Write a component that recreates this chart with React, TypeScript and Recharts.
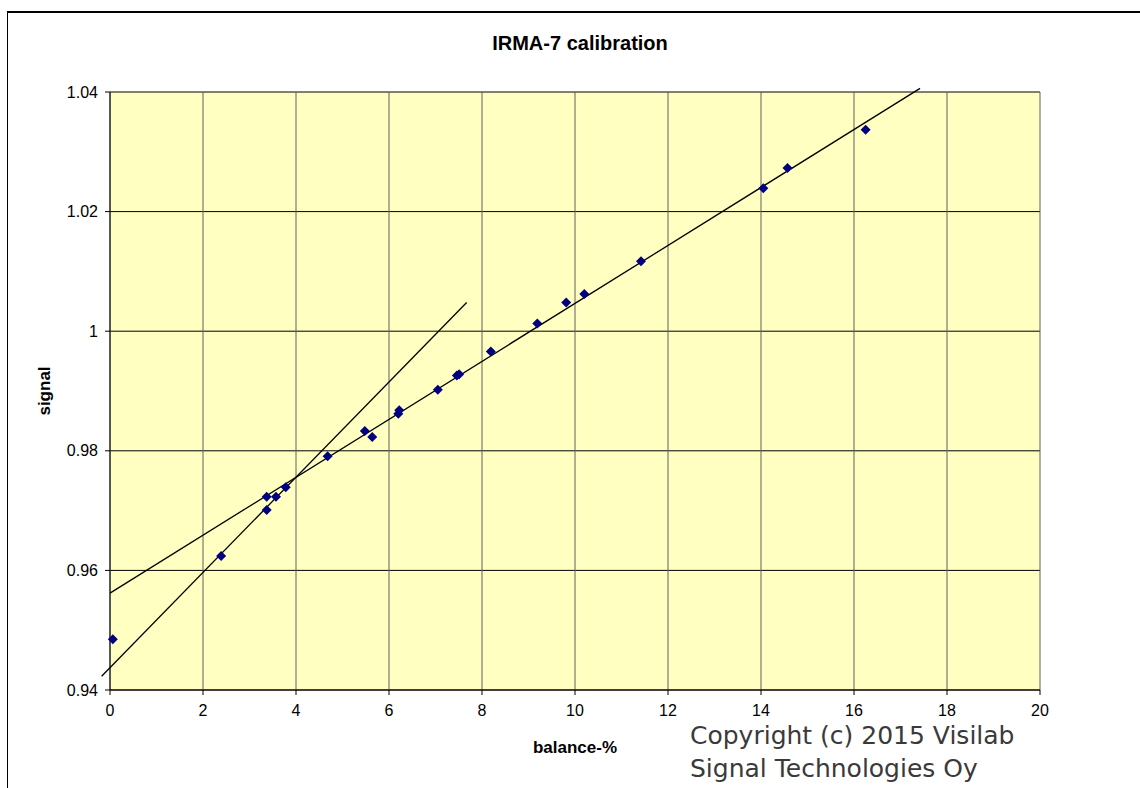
import { ScatterChart, Scatter, XAxis, YAxis, CartesianGrid, ReferenceLine } from 'recharts';

// measured points: balance-% and signal
const balance = [0.06, 2.39, 3.37, 3.37, 3.57, 3.78, 4.68, 5.48, 5.64, 6.2, 6.22, 7.05, 7.46, 7.51, 8.19, 9.19, 9.81, 10.2, 11.42, 14.05, 14.57, 16.25];
const signal = [0.9485, 0.9624, 0.9701, 0.9723, 0.9723, 0.9739, 0.9791, 0.9833, 0.9823, 0.9862, 0.9868, 0.9902, 0.9926, 0.9928, 0.9966, 1.0013, 1.0048, 1.0062, 1.0117, 1.0239, 1.0273, 1.0337];

// fitted lines (end points)
const fitLongX = [0, 17.42];
const fitLongY = [0.9562, 1.0406];
const fitShortX = [-0.18, 7.67];
const fitShortY = [0.9423, 1.0048];

const xTicks = [0, 2, 4, 6, 8, 10, 12, 14, 16, 18, 20];
const yTicks = [0.94, 0.96, 0.98, 1, 1.02, 1.04];

const points = balance.map((b, i) => ({ x: b, y: signal[i] }));

const Diamond = (p: any) => (
  <path
    d={`M${p.cx},${p.cy - 5}L${p.cx + 5},${p.cy}L${p.cx},${p.cy + 5}L${p.cx - 5},${p.cy}Z`}
    fill="#000080"
  />
);

const SignalLabel = ({ viewBox }: any) => {
  const x = viewBox.x;
  const y = viewBox.y + viewBox.height / 2;
  return (
    <text x={x} y={y} transform={`rotate(-90 ${x} ${y})`} textAnchor="middle" fontSize={17} fontWeight="bold" fill="#000">
      signal
    </text>
  );
};

export default function App() {
  return (
    <div style={{ position: 'relative', width: 1140, height: 788, overflow: 'hidden', background: '#fff', fontFamily: '"Liberation Sans", Arial, sans-serif' }}>
      <style>{'body{margin:0}'}</style>
      <div style={{ position: 'absolute', left: 7, top: 11, width: 2000, height: 2000, border: '1px solid #000', borderTopWidth: 2 }} />
      <div style={{ position: 'absolute', left: 10, top: 33, width: 1140, textAlign: 'center', fontSize: 20, lineHeight: '20px', fontWeight: 'bold' }}>
        IRMA-7 calibration
      </div>
      <div style={{ position: 'absolute', left: 0, top: 0 }}>
        <ScatterChart width={1140} height={788} margin={{ top: 92, right: 100, bottom: 68, left: 50 }}>
          <CartesianGrid fill="#FFFFC2" stroke="#000" vertical={false} />
          <CartesianGrid stroke="#606060" horizontal={false} fill="none" />
          <XAxis
            type="number"
            dataKey="x"
            domain={[0, 20]}
            ticks={xTicks}
            height={30}
            tickSize={5}
            tickMargin={10}
            stroke="#000"
            tick={{ fontSize: 16, fill: '#000' }}
            interval={0}
            label={{ value: 'balance-%', position: 'bottom', offset: 21, fontSize: 17, fontWeight: 'bold', fill: '#000' }}
          />
          <YAxis
            type="number"
            dataKey="y"
            domain={[0.94, 1.04]}
            ticks={yTicks}
            width={60}
            tickSize={5}
            tickMargin={7}
            stroke="#000"
            interval={0}
            tick={{ fontSize: 16, fill: '#000' }}
            tickFormatter={(v: number) => String(Number(v.toFixed(2)))}
            label={{ content: SignalLabel }}
          />
          <ReferenceLine
            segment={[{ x: fitLongX[0], y: fitLongY[0] }, { x: fitLongX[1], y: fitLongY[1] }]}
            stroke="#000"
            strokeWidth={1.3}
            ifOverflow="visible"
          />
          <ReferenceLine
            segment={[{ x: fitShortX[0], y: fitShortY[0] }, { x: fitShortX[1], y: fitShortY[1] }]}
            stroke="#000"
            strokeWidth={1.3}
            ifOverflow="visible"
          />
          <Scatter data={points} shape={Diamond} isAnimationActive={false} />
        </ScatterChart>
      </div>
      <div style={{ position: 'absolute', left: 690, top: 719, fontFamily: '"DejaVu Sans", sans-serif', fontSize: 25, lineHeight: '33px', color: '#3a3a3a', whiteSpace: 'nowrap' }}>
        Copyright (c) 2015 Visilab
        <br />
        Signal Technologies Oy
      </div>
    </div>
  );
}
